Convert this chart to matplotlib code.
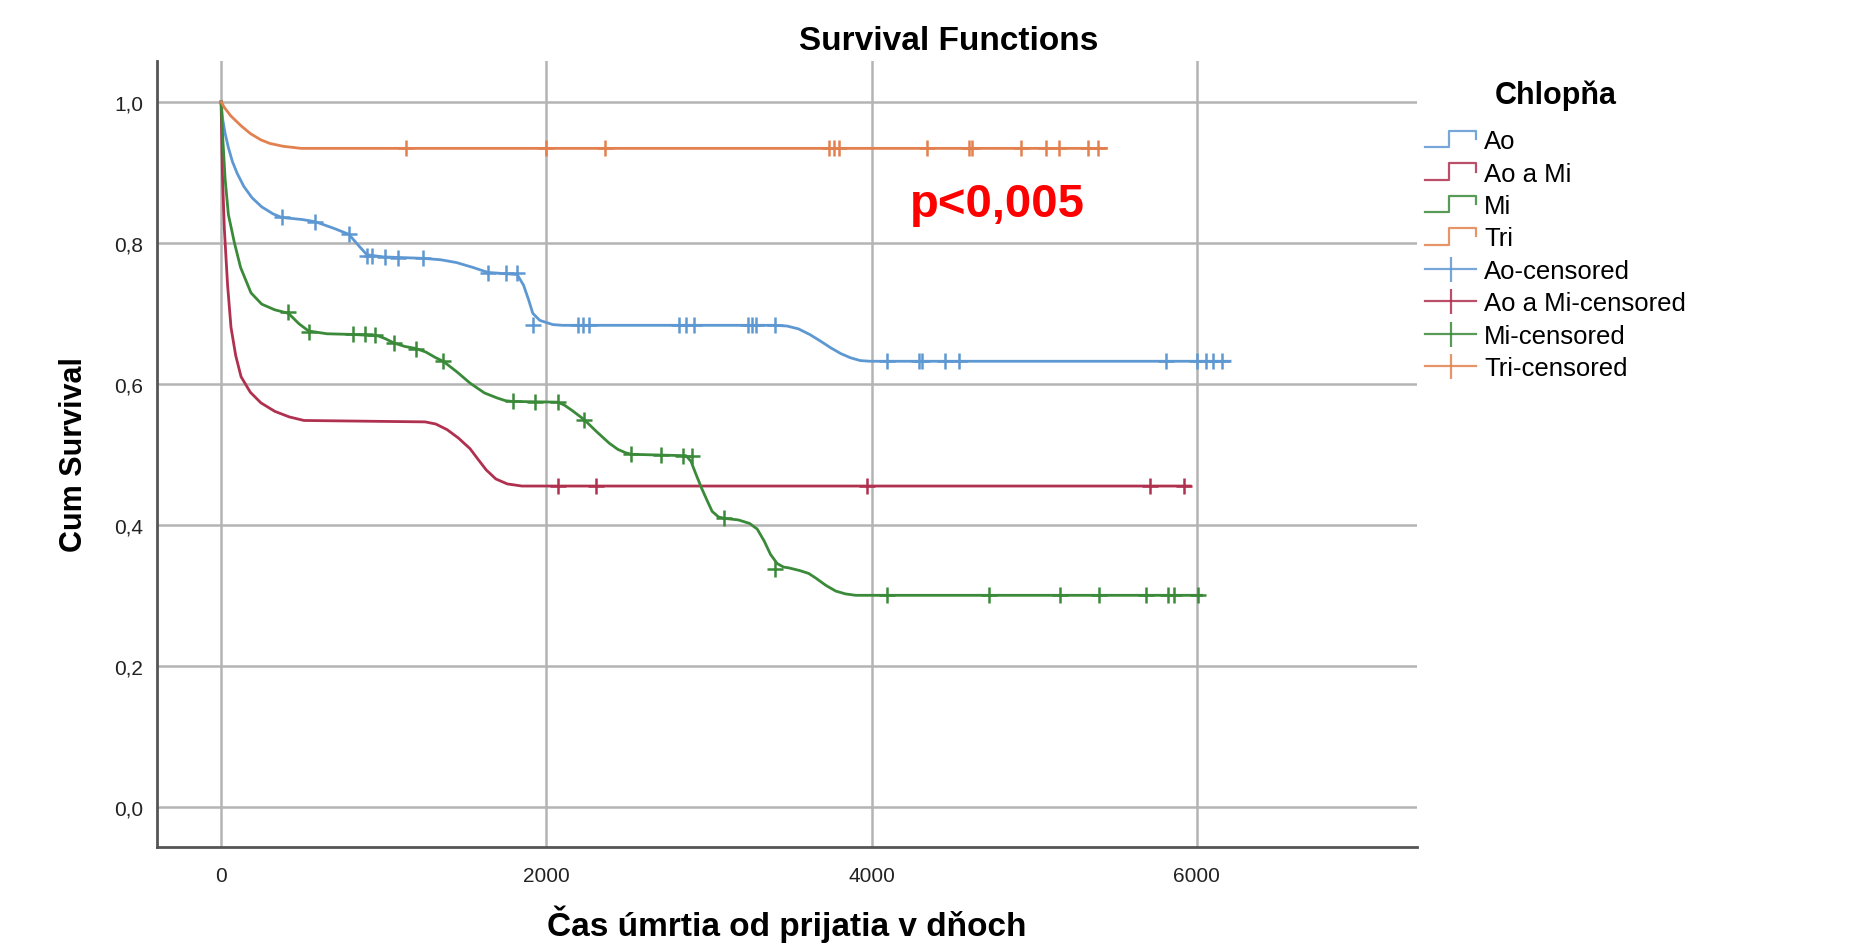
import matplotlib
matplotlib.use("Agg")
import matplotlib.pyplot as plt
from matplotlib.lines import Line2D
from matplotlib.legend_handler import HandlerBase

plt.rcParams['font.family'] = ['Liberation Sans', 'DejaVu Sans']

# krivky prezivania (cas v dnoch, kumulativne prezivanie)
ao_t = [0, 10, 25, 45, 70, 100, 140, 190, 250, 320, 372, 500, 579, 700, 786, 850, 897, 1000,
        1241, 1350, 1448, 1550, 1641, 1821, 1860, 1890, 1917, 1960, 2040, 2100, 3400, 3480,
        3550, 3620, 3690, 3750, 3810, 3870, 3930, 3990, 6205]
ao_s = [1.0, 0.975, 0.955, 0.935, 0.915, 0.898, 0.880, 0.864, 0.851, 0.841, 0.836, 0.833,
        0.830, 0.820, 0.812, 0.795, 0.783, 0.780, 0.778, 0.776, 0.772, 0.765, 0.758, 0.755,
        0.740, 0.720, 0.700, 0.690, 0.684, 0.683, 0.683, 0.682, 0.678, 0.670, 0.660, 0.651,
        0.643, 0.637, 0.633, 0.632, 0.632]

aomi_t = [0, 8, 20, 40, 61, 90, 123, 180, 245, 330, 420, 510, 1255, 1320, 1390, 1460, 1531,
          1580, 1630, 1690, 1760, 1850, 5960]
aomi_s = [1.0, 0.90, 0.82, 0.74, 0.68, 0.64, 0.61, 0.588, 0.573, 0.561, 0.553, 0.548, 0.546,
          0.543, 0.535, 0.523, 0.508, 0.493, 0.478, 0.465, 0.458, 0.455, 0.455]

mi_t = [0, 10, 25, 45, 82, 120, 184, 250, 330, 414, 480, 538, 650, 814, 966, 1010, 1062, 1130,
        1200, 1260, 1320, 1366, 1450, 1531, 1620, 1697, 1750, 1793, 2069, 2110, 2160, 2234,
        2310, 2386, 2440, 2490, 2524, 2860, 2890, 2920, 2955, 2990, 3020, 3060, 3100, 3180,
        3250, 3297, 3340, 3379, 3420, 3460, 3490, 3560, 3614, 3660, 3720, 3780, 3840, 3903,
        6030]
mi_s = [1.0, 0.95, 0.89, 0.84, 0.80, 0.765, 0.729, 0.713, 0.705, 0.700, 0.685, 0.675, 0.671,
        0.670, 0.668, 0.664, 0.658, 0.653, 0.650, 0.645, 0.637, 0.632, 0.617, 0.601, 0.587,
        0.580, 0.576, 0.575, 0.574, 0.570, 0.562, 0.549, 0.532, 0.516, 0.507, 0.502, 0.500,
        0.498, 0.490, 0.472, 0.452, 0.434, 0.419, 0.411, 0.409, 0.407, 0.402, 0.394, 0.377,
        0.358, 0.345, 0.340, 0.339, 0.335, 0.331, 0.324, 0.314, 0.306, 0.302, 0.300, 0.300]

tri_t = [0, 20, 60, 123, 180, 245, 300, 380, 491, 5445]
tri_s = [1.0, 0.992, 0.980, 0.966, 0.955, 0.946, 0.941, 0.937, 0.934, 0.934]

# cenzurovane pripady
ao_ct = [372, 579, 786, 897, 930, 1007, 1090, 1241, 1641, 1752, 1821, 1917, 2193, 2228, 2262,
         2814, 2862, 2910, 3241, 3262, 3290, 3407, 4098, 4290, 4313, 4450, 4535, 5813, 6000,
         6059, 6098, 6156]
ao_cs = [0.836, 0.830, 0.812, 0.781, 0.781, 0.780, 0.779, 0.778, 0.757, 0.757, 0.757, 0.684,
         0.683, 0.683, 0.683, 0.683, 0.683, 0.683, 0.683, 0.683, 0.683, 0.683, 0.632, 0.632,
         0.632, 0.632, 0.632, 0.632, 0.632, 0.632, 0.632, 0.632]

aomi_ct = [2074, 2303, 3975, 5710, 5923]
aomi_cs = [0.455, 0.455, 0.455, 0.455, 0.455]

mi_ct = [414, 538, 814, 883, 949, 1062, 1200, 1366, 1793, 1931, 2069, 2234, 2518, 2708, 2841,
         2897, 3090, 3407, 4097, 4720, 5159, 5399, 5691, 5821, 5862, 6006]
mi_cs = [0.702, 0.674, 0.670, 0.670, 0.669, 0.658, 0.650, 0.632, 0.575, 0.574, 0.574, 0.549,
         0.500, 0.499, 0.498, 0.498, 0.409, 0.337, 0.300, 0.300, 0.300, 0.300, 0.300, 0.300,
         0.300, 0.300]

tri_ct = [1139, 2000, 2358, 3740, 3770, 3800, 4340, 4600, 4615, 4920, 5075, 5155, 5330, 5390]
tri_cs = [0.934] * len(tri_ct)

skupiny = ['Ao', 'Ao a Mi', 'Mi', 'Tri']
farby = ['#5e98d2', '#b0304f', '#3a8a3a', '#e2814f']

x_ticks = [0, 2000, 4000, 6000]
y_ticks = [0.0, 0.2, 0.4, 0.6, 0.8, 1.0]
y_labels = ['0,0', '0,2', '0,4', '0,6', '0,8', '1,0']

krivky = [(ao_t, ao_s), (aomi_t, aomi_s), (mi_t, mi_s), (tri_t, tri_s)]
cenzury = [(ao_ct, ao_cs), (aomi_ct, aomi_cs), (mi_ct, mi_cs), (tri_ct, tri_cs)]

fig = plt.figure(figsize=(18.67, 9.53), dpi=100)
ax = fig.add_axes([0.0841, 0.1102, 0.759 - 0.0841, 0.935 - 0.1102])

for (t, s), (ct, cs), c in zip(krivky, cenzury, farby):
    ax.plot(t, s, color=c, lw=2.0, zorder=3, solid_joinstyle='round')
    ax.plot(ct, cs, ls='none', marker='+', markersize=12, mew=1.8, color=c, zorder=4)

ax.set_xlim(-394, 7355)
ax.set_ylim(-0.057, 1.058)
ax.set_xticks(x_ticks)
ax.set_xticklabels([str(v) for v in x_ticks])
ax.set_yticks(y_ticks)
ax.set_yticklabels(y_labels)
ax.tick_params(length=0, labelsize=15, colors='#222222')
ax.tick_params(axis='y', pad=10)
ax.tick_params(axis='x', pad=14)
ax.grid(True, color='#b4b4b4', lw=1.8)
ax.set_axisbelow(True)
for side in ['top', 'right']:
    ax.spines[side].set_visible(False)
for side in ['left', 'bottom']:
    ax.spines[side].set_color('#555555')
    ax.spines[side].set_linewidth(2)

fig.text(949 / 1867, 1 - 42 / 953, 'Survival Functions', fontsize=24, fontweight='bold',
         ha='center', va='center')
ax.set_ylabel('Cum Survival', fontsize=22, fontweight='bold', labelpad=18)
ax.set_xlabel('Čas úmrtia od prijatia v dňoch', fontsize=24, fontweight='bold', labelpad=14)

ax.text(4237, 0.855, 'p<0,005', color='#ff0000', fontsize=34, fontweight='bold',
        va='center', ha='left')


class StepHandler(HandlerBase):
    def create_artists(self, legend, orig_handle, xdescent, ydescent, width, height,
                       fontsize, trans):
        x0 = -xdescent
        y0 = -ydescent
        xs = [x0, x0 + 0.48 * width, x0 + 0.48 * width, x0 + width, x0 + width]
        ys = [y0 + 0.05 * height, y0 + 0.05 * height, y0 + 0.95 * height,
              y0 + 0.95 * height, y0 + 0.5 * height]
        ln = Line2D(xs, ys, color=orig_handle.get_color(), lw=1.6, alpha=0.85)
        ln.set_transform(trans)
        return [ln]


step_h = [Line2D([], [], color=c) for c in farby]
cens_h = [Line2D([], [], color=c, lw=1.6, marker='|', markersize=18, mew=1.6, alpha=0.85)
          for c in farby]
labels = skupiny + [g + '-censored' for g in skupiny]
hmap = {h: StepHandler() for h in step_h}
leg = ax.legend(step_h + cens_h, labels, handler_map=hmap, title='Chlopňa',
                loc='upper left', bbox_to_anchor=(0.998, 0.99), frameon=False,
                fontsize=18.5, title_fontproperties={'size': 22, 'weight': 'bold'},
                handlelength=2.0, handletextpad=0.3, labelspacing=0.33,
                borderaxespad=0)
leg._legend_box.sep = 14

fig.savefig('out.png', dpi=100, facecolor='white')
